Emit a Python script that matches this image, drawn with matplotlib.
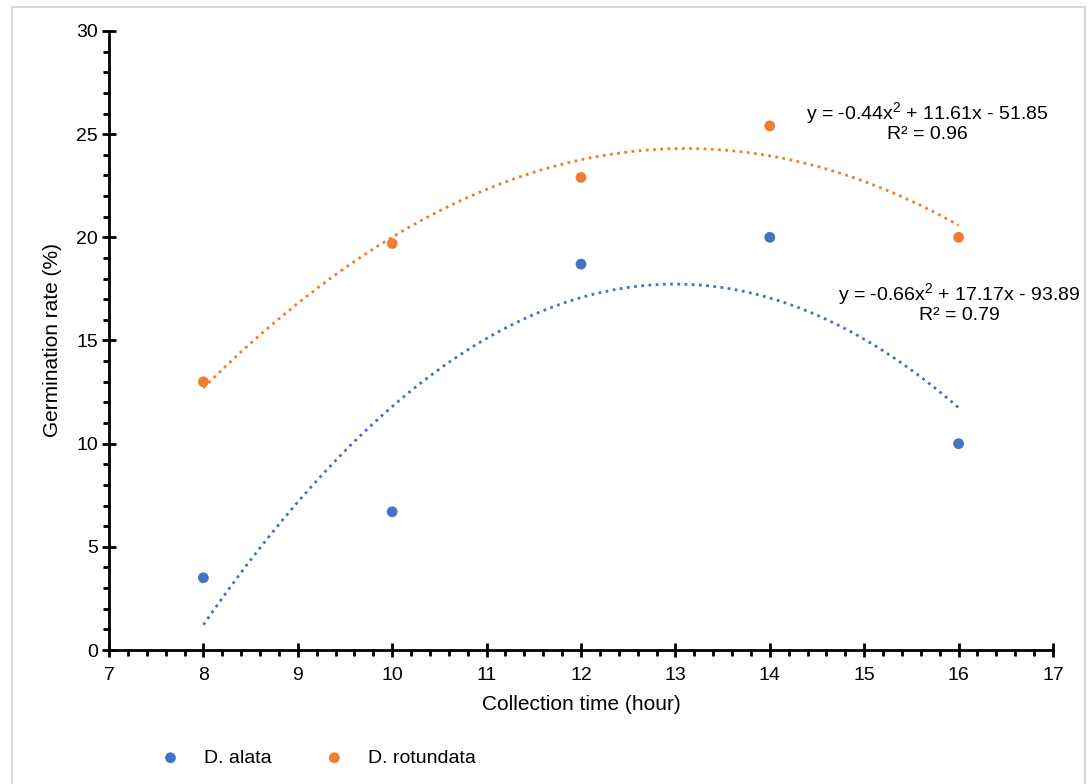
import numpy as np
import matplotlib.pyplot as plt
from matplotlib.ticker import MultipleLocator
from matplotlib.patches import Rectangle

plt.rcParams['font.family'] = ['Liberation Sans', 'DejaVu Sans']
plt.rcParams['mathtext.fontset'] = 'custom'
plt.rcParams['mathtext.rm'] = 'Liberation Sans'
plt.rcParams['mathtext.it'] = 'Liberation Sans'

hours = [8, 10, 12, 14, 16]
alata = [3.5, 6.7, 18.7, 20.0, 10.0]
rotundata = [13.0, 19.7, 22.9, 25.4, 20.0]
series_names = ['D. alata', 'D. rotundata']
equations = [r'y = -0.66x$^{2}$ + 17.17x - 93.89' + '\nR² = 0.79',
             r'y = -0.44x$^{2}$ + 11.61x - 51.85' + '\nR² = 0.96']
blue = '#4472C4'
orange = '#ED7D31'

fig = plt.figure(figsize=(10.92, 7.84), dpi=100)
ax = fig.add_axes([0.0998, 0.1709, 0.8645, 0.7896])

# light grey frame round the chart area
fig.patches.append(Rectangle((12 / 1092, -0.05), 1073 / 1092, 1 - 7 / 784 + 0.05,
                             transform=fig.transFigure, fill=False,
                             edgecolor='#d9d9d9', lw=1.5))

for vals, col, name in [(alata, blue, series_names[0]), (rotundata, orange, series_names[1])]:
    coef = np.polyfit(hours, vals, 2)
    xs = np.linspace(min(hours), max(hours), 200)
    ax.plot(xs, np.polyval(coef, xs), ls=(0, (1, 1.6)), color=col, lw=2)
    ax.scatter(hours, vals, s=60, color=col, zorder=3, label=name, edgecolors='none')

ax.text(15.67, 25.6, equations[1], ha='center', va='center', fontsize=14, linespacing=1.0)
ax.text(16.01, 16.85, equations[0], ha='center', va='center', fontsize=14, linespacing=1.0,
        clip_on=False)

ax.set_xlim(7, 17)
ax.set_ylim(0, 30)
ax.xaxis.set_major_locator(MultipleLocator(1))
ax.xaxis.set_minor_locator(MultipleLocator(0.2))
ax.yaxis.set_major_locator(MultipleLocator(5))
ax.yaxis.set_minor_locator(MultipleLocator(1))
ax.tick_params(which='major', direction='inout', length=10, width=2, labelsize=14, pad=3)
ax.tick_params(axis='x', which='major', pad=7)
ax.tick_params(which='minor', direction='out', length=4, width=2)
for s in ['top', 'right']:
    ax.spines[s].set_visible(False)
for s in ['left', 'bottom']:
    ax.spines[s].set_linewidth(2)

ax.set_xlabel('Collection time (hour)', fontsize=15, labelpad=8)
ax.set_ylabel('Germination rate (%)', fontsize=15, labelpad=10)

ax.legend(loc='upper left', bbox_to_anchor=(0.026, -0.132), ncol=2, frameon=False,
          fontsize=14, handletextpad=0.75, columnspacing=2.2, scatterpoints=1)

fig.savefig('out.png', dpi=100)
